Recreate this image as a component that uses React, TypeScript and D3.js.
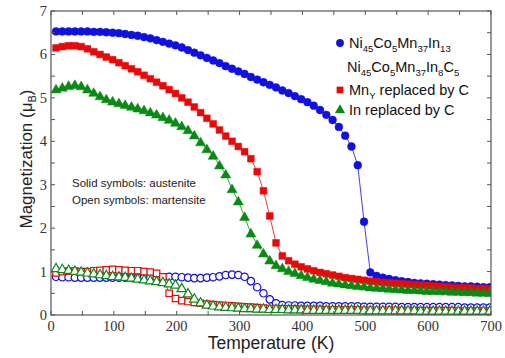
import React from "react";
import * as d3 from "d3";

// temperature grid (K)
const temps = [
  8, 18, 28, 38, 48, 58, 68, 78, 88, 98,
  108, 118, 128, 138, 148, 158, 168, 178, 188, 198,
  208, 218, 228, 238, 248, 258, 268, 278, 288, 298,
  308, 318, 328, 338, 348, 358, 368, 378, 388, 398,
  408, 418, 428, 438, 448, 458, 468, 478, 488, 498,
  508, 518, 528, 538, 548, 558, 568, 578, 588, 598,
  608, 618, 628, 638, 648, 658, 668, 678, 688, 698,
];

// solid symbols: austenite
const niInAust = [
  6.53, 6.53, 6.53, 6.53, 6.53, 6.53, 6.52, 6.52, 6.51, 6.5,
  6.49, 6.47, 6.45, 6.43, 6.4, 6.37, 6.33, 6.29, 6.25, 6.21,
  6.16, 6.1, 6.04, 5.98, 5.92, 5.86, 5.8, 5.73, 5.67, 5.61,
  5.55, 5.48, 5.42, 5.36, 5.3, 5.24, 5.17, 5.11, 5.04, 4.97,
  4.9, 4.82, 4.72, 4.61, 4.49, 4.33, 4.13, 3.88, 3.45, 2.15,
  0.98, 0.9, 0.86, 0.83, 0.8, 0.78, 0.76, 0.74, 0.73, 0.72,
  0.71, 0.7, 0.69, 0.68, 0.67, 0.66, 0.66, 0.65, 0.64, 0.64,
];
const mnCAust = [
  6.15, 6.18, 6.2, 6.2, 6.18, 6.13, 6.06, 6.0, 5.94, 5.88,
  5.81, 5.74, 5.67, 5.6, 5.52, 5.44, 5.36, 5.28, 5.19, 5.1,
  5.0, 4.9, 4.79, 4.66, 4.53, 4.4, 4.26, 4.12, 4.0, 3.88,
  3.76, 3.6, 3.3, 2.86, 2.28, 1.66, 1.36, 1.25, 1.17, 1.11,
  1.06, 1.02, 0.98, 0.95, 0.92, 0.89, 0.86, 0.84, 0.82, 0.8,
  0.78, 0.77, 0.75, 0.74, 0.73, 0.72, 0.71, 0.7, 0.69, 0.68,
  0.67, 0.66, 0.65, 0.64, 0.63, 0.63, 0.62, 0.61, 0.61, 0.6,
];
const inCAust = [
  5.2, 5.24, 5.28, 5.3, 5.27, 5.2, 5.12, 5.04, 4.97, 4.92,
  4.88, 4.84, 4.8, 4.76, 4.72, 4.67, 4.62, 4.56, 4.5, 4.43,
  4.35, 4.26, 4.14, 3.98, 3.82, 3.67, 3.45, 3.24, 2.9, 2.62,
  2.26, 1.88, 1.62, 1.42, 1.26, 1.15, 1.08, 1.02, 0.97, 0.92,
  0.88, 0.84, 0.81, 0.78, 0.75, 0.73, 0.71, 0.69, 0.67, 0.66,
  0.64, 0.63, 0.62, 0.61, 0.6, 0.59, 0.58, 0.58, 0.57, 0.56,
  0.56, 0.55, 0.55, 0.54, 0.54, 0.53, 0.53, 0.52, 0.52, 0.51,
];

// open symbols: martensite
const niInMart = [
  0.88, 0.87, 0.87, 0.86, 0.86, 0.86, 0.86, 0.86, 0.86, 0.86,
  0.86, 0.86, 0.86, 0.86, 0.86, 0.86, 0.86, 0.87, 0.88, 0.88,
  0.87, 0.86, 0.85, 0.85, 0.86, 0.87, 0.89, 0.92, 0.93, 0.92,
  0.88, 0.78, 0.64, 0.5, 0.36, 0.27, 0.23, 0.22, 0.22, 0.21,
  0.21, 0.21, 0.21, 0.2, 0.2, 0.2, 0.2, 0.2, 0.2, 0.19,
  0.19, 0.19, 0.19, 0.19, 0.19, 0.18, 0.18, 0.18, 0.18, 0.18,
  0.18, 0.18, 0.18, 0.18, 0.18, 0.17, 0.17, 0.17, 0.17, 0.17,
];
const mnCMart = [
  0.97, 1.0, 1.01, 1.01, 1.0, 1.0, 1.02, 1.03, 1.04, 1.05,
  1.04, 1.03, 1.02, 1.02, 1.0, 0.99, 0.96, 0.88, 0.5, 0.38,
  0.33, 0.31, 0.29, 0.27, 0.25, 0.24, 0.23, 0.22, 0.21, 0.2,
  0.19, 0.18, 0.17, 0.16, 0.15, 0.15, 0.14, 0.14, 0.14, 0.13,
  0.13, 0.13, 0.13, 0.12, 0.12, 0.12, 0.12, 0.12, 0.12, 0.11,
  0.11, 0.11, 0.11, 0.11, 0.11, 0.1, 0.1, 0.1, 0.1, 0.1,
  0.1, 0.1, 0.1, 0.1, 0.09, 0.09, 0.09, 0.09, 0.09, 0.09,
];
const inCMart = [
  1.08, 1.06, 1.04, 1.02, 1.0, 0.98, 0.96, 0.94, 0.92, 0.9,
  0.89, 0.88, 0.86, 0.84, 0.82, 0.8, 0.78, 0.76, 0.73, 0.7,
  0.62, 0.5, 0.38, 0.29, 0.24, 0.22, 0.2, 0.19, 0.18, 0.17,
  0.16, 0.16, 0.15, 0.15, 0.14, 0.14, 0.14, 0.13, 0.13, 0.13,
  0.12, 0.12, 0.12, 0.12, 0.12, 0.12, 0.12, 0.12, 0.12, 0.11,
  0.11, 0.11, 0.11, 0.11, 0.11, 0.11, 0.11, 0.11, 0.1, 0.1,
  0.1, 0.1, 0.1, 0.1, 0.1, 0.1, 0.1, 0.1, 0.1, 0.1,
];

const xTicks = [0, 100, 200, 300, 400, 500, 600, 700];
const yTicks = [0, 1, 2, 3, 4, 5, 6, 7];

const BLUE = "#1010e0";
const RED = "#e80a0a";
const GREEN = "#0a8a14";

const W = 505;
const H = 358;

const x = d3.scaleLinear().domain([0, 700]).range([51, 491]);
const y = d3.scaleLinear().domain([0, 7]).range([315, 11]);

type Shape = "circle" | "square" | "triangle";

const symType = (s: Shape) =>
  s === "circle" ? d3.symbolCircle : s === "square" ? d3.symbolSquare : d3.symbolTriangle;
const symSize = (s: Shape) => (s === "circle" ? 48 : s === "square" ? 46 : 44);

function Series({ values, color, shape, open }: { values: number[]; color: string; shape: Shape; open: boolean }) {
  const pts = temps.map((t, i) => [t, values[i]] as [number, number]);
  const line = d3.line<[number, number]>().x((d) => x(d[0])).y((d) => y(d[1]));
  const sym = d3.symbol().type(symType(shape)).size(open ? symSize(shape) * 0.9 : symSize(shape))();
  return (
    <g>
      <path d={line(pts) || ""} fill="none" stroke={color} strokeWidth={0.8} />
      {pts.map((d, i) => (
        <path
          key={i}
          d={sym || ""}
          transform={`translate(${x(d[0])},${y(d[1]) + (shape === "triangle" ? 0.8 : 0)})`}
          fill={open ? "#fff" : color}
          stroke={color}
          strokeWidth={open ? 1.2 : 0.5}
        />
      ))}
    </g>
  );
}

type Part = [string, boolean];

function Formula({ px, py, parts, size }: { px: number; py: number; parts: Part[]; size: number }) {
  let down = false;
  return (
    <text x={px} y={py} fontSize={size} fontFamily="Liberation Sans, Arial, sans-serif" fill="#111">
      {parts.map(([s, sub], i) => {
        let dy = 0;
        if (sub && !down) { dy = 4; down = true; }
        else if (!sub && down) { dy = -4; down = false; }
        return (
          <tspan key={i} dy={dy} fontSize={sub ? size * 0.66 : size}>
            {s}
          </tspan>
        );
      })}
    </text>
  );
}

const legendA: Part[] = [["Ni", false], ["45", true], ["Co", false], ["5", true], ["Mn", false], ["37", true], ["In", false], ["13", true]];
const legendB: Part[] = [["Ni", false], ["45", true], ["Co", false], ["5", true], ["Mn", false], ["37", true], ["In", false], ["8", true], ["C", false], ["5", true]];
const legendC: Part[] = [["Mn", false], ["Y", true], [" replaced by C", false]];
const legendD: Part[] = [["In replaced by C", false]];

export default function App() {
  const xMinor = d3.range(0, 701, 50);
  const yMinor = d3.range(0, 7.01, 0.5);
  const tickLen = 4;
  const axisColor = "#555";
  return (
    <svg width={W} height={H} style={{ position: "absolute", left: 0, top: 0, background: "#fff" }}>
      <rect x={0} y={0} width={W} height={H} fill="#fff" />

      {/* martensite (open) */}
      <Series values={niInMart} color={BLUE} shape="circle" open />
      <Series values={mnCMart} color={RED} shape="square" open />
      <Series values={inCMart} color={GREEN} shape="triangle" open />
      {/* austenite (solid) */}
      <Series values={niInAust} color={BLUE} shape="circle" open={false} />
      <Series values={mnCAust} color={RED} shape="square" open={false} />
      <Series values={inCAust} color={GREEN} shape="triangle" open={false} />

      {/* white strips outside frame to clip markers */}
      <rect x={491} y={0} width={14} height={H} fill="#fff" />
      <rect x={0} y={315.5} width={W} height={3} fill="#fff" />

      {/* frame and ticks */}
      <rect x={51} y={11} width={440} height={304} fill="none" stroke={axisColor} strokeWidth={1.2} />
      {xMinor.map((t) => (
        <g key={"x" + t}>
          <line x1={x(t)} x2={x(t)} y1={315} y2={315 - tickLen} stroke={axisColor} />
          <line x1={x(t)} x2={x(t)} y1={11} y2={11 + tickLen} stroke={axisColor} />
        </g>
      ))}
      {yMinor.map((v) => (
        <g key={"y" + v}>
          <line x1={51} x2={51 + tickLen} y1={y(v)} y2={y(v)} stroke={axisColor} />
          <line x1={491} x2={491 - tickLen} y1={y(v)} y2={y(v)} stroke={axisColor} />
        </g>
      ))}
      {xTicks.map((t) => (
        <text key={"xl" + t} x={x(t)} y={331} textAnchor="middle" fontSize={14.5}
          fontFamily="Liberation Serif, Times New Roman, serif" fill="#333">
          {t}
        </text>
      ))}
      {yTicks.map((v) => (
        <text key={"yl" + v} x={47} y={y(v) + 5} textAnchor="end" fontSize={14.5}
          fontFamily="Liberation Serif, Times New Roman, serif" fill="#333">
          {v}
        </text>
      ))}

      {/* axis titles */}
      <text x={271} y={349} textAnchor="middle" fontSize={17.5} fontFamily="Liberation Sans, Arial, sans-serif" fill="#222">
        Temperature (K)
      </text>
      <text transform="translate(32,159) rotate(-90)" textAnchor="middle" fontSize={17}
        fontFamily="Liberation Sans, Arial, sans-serif" fill="#222">
        Magnetization (μ<tspan dy={4} fontSize={11}>B</tspan><tspan dy={-4}>)</tspan>
      </text>

      {/* legend */}
      <path d={d3.symbol().type(d3.symbolCircle).size(48)() || ""} transform="translate(340,43)" fill={BLUE} />
      <Formula px={349} py={48} parts={legendA} size={14.5} />
      <Formula px={347} py={72} parts={legendB} size={14.5} />
      <path d={d3.symbol().type(d3.symbolSquare).size(46)() || ""} transform="translate(340,90)" fill={RED} />
      <Formula px={349} py={95} parts={legendC} size={14.5} />
      <path d={d3.symbol().type(d3.symbolTriangle).size(44)() || ""} transform="translate(340,110)" fill={GREEN} />
      <Formula px={349} py={115} parts={legendD} size={14.5} />

      {/* annotation */}
      <text x={72} y={187} fontSize={11.5} fontFamily="Liberation Sans, Arial, sans-serif" fill="#222">
        Solid symbols: austenite
      </text>
      <text x={72} y={204} fontSize={11.5} fontFamily="Liberation Sans, Arial, sans-serif" fill="#222">
        Open symbols: martensite
      </text>
    </svg>
  );
}
